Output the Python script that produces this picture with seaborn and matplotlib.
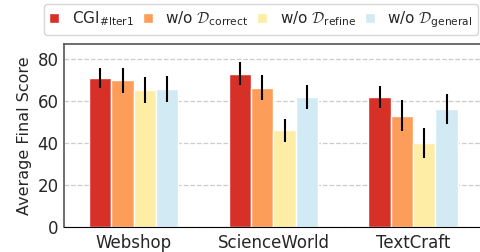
import pandas as pd
import matplotlib
matplotlib.use("Agg")
import matplotlib.pyplot as plt
import seaborn as sns

# Werte
tasks = ["Webshop", "ScienceWorld", "TextCraft"]
variants = [
    r"CGI$_{\text{\#Iter1}}$",
    r"w/o $\mathcal{D}_{\text{correct}}$",
    r"w/o $\mathcal{D}_{\text{refine}}$",
    r"w/o $\mathcal{D}_{\text{general}}$",
]
cgi = [70.8, 72.8, 61.8]
wo_correct = [69.8, 66.3, 53.0]
wo_refine = [65.1, 45.9, 39.8]
wo_general = [65.6, 61.8, 56.0]
err_cgi = [4.8, 5.5, 5.2]
err_correct = [5.9, 5.8, 7.2]
err_refine = [6.1, 5.6, 7.1]
err_general = [6.4, 5.7, 7.1]
colors = ["#d73027", "#fc9d5a", "#feeda4", "#d2eaf4"]

scores = [cgi, wo_correct, wo_refine, wo_general]
errors = [err_cgi, err_correct, err_refine, err_general]

rows = []
for v, vals in zip(variants, scores):
    for t, s in zip(tasks, vals):
        rows.append({"task": t, "variant": v, "score": s})
df = pd.DataFrame(rows)

sns.set_style("white")
plt.rcParams["font.family"] = ["DejaVu Sans"]
plt.rcParams["mathtext.fontset"] = "custom"
plt.rcParams["mathtext.rm"] = "DejaVu Sans"
plt.rcParams["mathtext.cal"] = "cmsy10"

fig = plt.figure(figsize=(4.81, 2.52), dpi=100)
ax = fig.add_axes([0.133, 0.1, 0.871, 0.725])

sns.barplot(data=df, x="task", y="score", hue="variant", hue_order=variants,
            palette=colors, saturation=1, width=0.64, errorbar=None,
            edgecolor="white", linewidth=1, ax=ax)

# Fehlerbalken
for cont, errs in zip(ax.containers, errors):
    xs = [p.get_x() + p.get_width() / 2 for p in cont.patches]
    ys = [p.get_height() for p in cont.patches]
    ax.errorbar(xs, ys, yerr=errs, fmt="none", ecolor="black", elinewidth=1.5, capsize=0)

ax.set_ylim(0, 87)
ax.set_xlim(-0.5, 2.5)
ax.set_yticks([0, 20, 40, 60, 80])
ax.yaxis.grid(True, linestyle="--", color="#cccccc", linewidth=0.9)
ax.set_axisbelow(True)
ax.set_xlabel("")
ax.set_ylabel("Average Final Score", fontsize=11.5)
ax.tick_params(axis="x", labelsize=12, length=0, pad=5)
ax.tick_params(axis="y", labelsize=12, length=0, pad=4)
for s in ["left", "top", "right"]:
    ax.spines[s].set_color("#555555")
    ax.spines[s].set_linewidth(1.2)
ax.spines["bottom"].set_color("black")

ax.legend(loc="upper center", bbox_to_anchor=(0.47, 1.263), ncol=4, fontsize=11,
          handlelength=0.65, handleheight=0.65, handletextpad=0.8, columnspacing=0.6,
          frameon=True, borderpad=0.35)

fig.savefig("out.png", dpi=100)
